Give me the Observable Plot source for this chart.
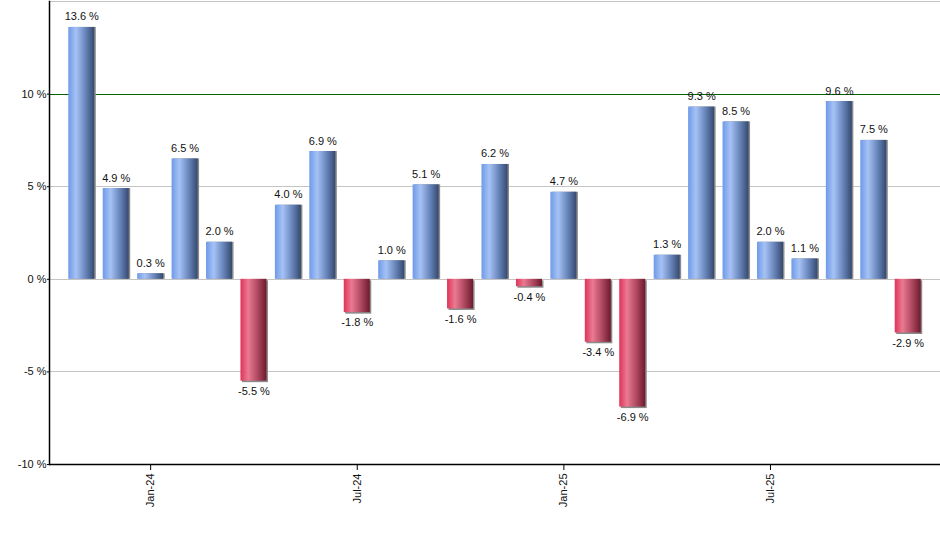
<!DOCTYPE html>
<html>
<head>
<meta charset="utf-8">
<script src="https://cdn.jsdelivr.net/npm/d3@7"></script>
<script src="https://cdn.jsdelivr.net/npm/@observablehq/plot@0.6"></script>
<style>
  html, body { margin: 0; padding: 0; background: #fff; }
  #chart svg { display: block; }
</style>
</head>
<body>
<div id="chart"></div>
<script>
const months = ["Nov-23","Dec-23","Jan-24","Feb-24","Mar-24","Apr-24","May-24","Jun-24","Jul-24","Aug-24","Sep-24","Oct-24","Nov-24","Dec-24","Jan-25","Feb-25","Mar-25","Apr-25","May-25","Jun-25","Jul-25","Aug-25","Sep-25","Oct-25","Nov-25"];
const returns = [13.6, 4.9, 0.3, 6.5, 2.0, -5.5, 4.0, 6.9, -1.8, 1.0, 5.1, -1.6, 6.2, -0.4, 4.7, -3.4, -6.9, 1.3, 9.3, 8.5, 2.0, 1.1, 9.6, 7.5, -2.9];
const xTicks = ["Jan-24","Jul-24","Jan-25","Jul-25"];
const yTicks = [-10, -5, 0, 5, 10];
const grayGrid = [15, 5, 0, -5];
const greenGrid = [10];

const data = months.map((m, i) => ({month: m, value: returns[i]}));
const pos = data.filter(d => d.value >= 0);
const neg = data.filter(d => d.value < 0);
const fmt = v => v.toFixed(1) + " %";

const chart = Plot.plot({
  width: 940,
  height: 550,
  marginLeft: 49,
  marginRight: 0,
  marginTop: 1,
  marginBottom: 86,
  style: {fontFamily: "'Liberation Sans', Arial, sans-serif", fontSize: "11px", color: "#000", background: "#fff"},
  x: {domain: months, paddingInner: 0.245, paddingOuter: 0.56, round: false},
  y: {domain: [-10, 15]},
  marks: [
    Plot.ruleY(grayGrid, {stroke: "#c4c4c4", strokeWidth: 1, shapeRendering: "crispEdges"}),
    Plot.ruleY(greenGrid, {stroke: "#006400", strokeWidth: 1, shapeRendering: "crispEdges"}),
    Plot.barY(pos, {x: "month", y: "value", fill: "#8a8a8a", dx: 1.5}),
    Plot.barY(neg, {x: "month", y: "value", fill: "#8a8a8a", dx: 1.5, dy: 1.5}),
    Plot.barY(pos, {x: "month", y: "value", fill: "url(#gradBlue)"}),
    Plot.barY(neg, {x: "month", y: "value", fill: "url(#gradRed)"}),
    Plot.text(pos, {x: "month", y: "value", text: d => fmt(d.value), lineAnchor: "bottom", dy: -7, fill: "#111"}),
    Plot.text(neg, {x: "month", y: "value", text: d => fmt(d.value), lineAnchor: "top", dy: 6, fill: "#111"}),
    Plot.ruleY([-10], {stroke: "#000", strokeWidth: 1.5}),
    Plot.frame({anchor: "left", stroke: "#000", strokeWidth: 1.5}),
    Plot.axisY({ticks: yTicks, tickFormat: d => d + " %", tickSize: 2, tickPadding: 1, label: null, fill: "#111"}),
    Plot.axisX({ticks: xTicks, tickRotate: -90, tickSize: 6, tickPadding: 3, label: null, fill: "#111", stroke: "#000"})
  ]
});

const defs = d3.create("svg:defs");
function grad(id, stops) {
  const g = defs.append("linearGradient").attr("id", id).attr("x1", 0).attr("x2", 1).attr("y1", 0).attr("y2", 0);
  stops.forEach(([o, c]) => g.append("stop").attr("offset", o).attr("stop-color", c));
}
grad("gradBlue", [[0, "#6e9ae8"], [0.3, "#a6c2f5"], [0.65, "#6a87bd"], [1, "#34496f"]]);
grad("gradRed", [[0, "#df3358"], [0.3, "#ea7a92"], [0.65, "#b04a62"], [1, "#6e1a2c"]]);
chart.insertBefore(defs.node(), chart.firstChild);

document.getElementById("chart").appendChild(chart);
</script>
</body>
</html>
